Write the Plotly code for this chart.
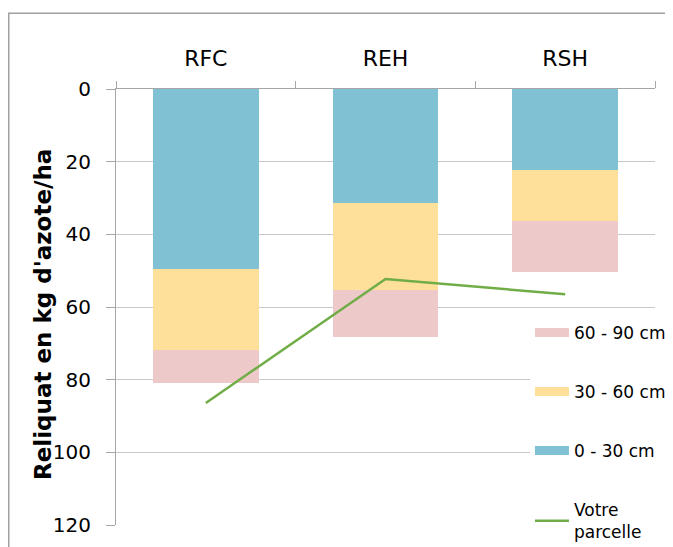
import plotly.graph_objects as go

categories = ["RFC", "REH", "RSH"]
layer_0_30 = [49.5, 31.3, 22.2]
layer_30_60 = [22.3, 23.9, 14.1]
layer_60_90 = [9.0, 13.1, 14.1]
votre_parcelle = [86.4, 52.3, 56.5]

col_blue = "#80C2D4"
col_yellow = "#FEE09A"
col_pink = "#EDC9C9"
col_green = "#70AD47"
font_fam = "DejaVu Sans"

fig = go.Figure()
for name, vals, col in [("0 - 30 cm", layer_0_30, col_blue),
                        ("30 - 60 cm", layer_30_60, col_yellow),
                        ("60 - 90 cm", layer_60_90, col_pink)]:
    fig.add_trace(go.Bar(x=categories, y=vals, name=name, marker_color=col,
                         marker_line_width=0, showlegend=False))

fig.add_trace(go.Scatter(x=categories, y=votre_parcelle, mode="lines",
                         line=dict(color=col_green, width=2.5), showlegend=False))

# legend entries (wide rectangles as in the reference)
for i, (name, col, w) in enumerate([("60 - 90 cm", col_pink, 9),
                                    ("30 - 60 cm", col_yellow, 9),
                                    ("0 - 30 cm", col_blue, 9),
                                    ("Votre<br>parcelle", col_green, 2.5)]):
    fig.add_trace(go.Scatter(x=[None], y=[None], mode="lines", name=name,
                             line=dict(color=col, width=w), legendgroup=f"g{i}",
                             legendrank=i + 1))

fig.update_layout(
    width=700, height=580,
    margin=dict(l=108, r=53, t=81, b=63),
    barmode="stack", bargap=0.413,
    plot_bgcolor="white", paper_bgcolor="white",
    font=dict(family=font_fam, color="#000000"),
    legend=dict(x=0.768, y=0.482, xanchor="left", yanchor="top",
                bgcolor="white", font=dict(size=17, family=font_fam),
                tracegroupgap=34, traceorder="grouped", itemwidth=34),
    xaxis=dict(side="top", type="category", tickson="boundaries",
               ticks="outside", ticklen=7, tickcolor="#a6a6a6",
               showline=True, linecolor="#a6a6a6", linewidth=1,
               tickfont=dict(size=22), ticklabelstandoff=13, showgrid=False),
    yaxis=dict(range=[120, 0], dtick=20, ticks="outside", ticklen=9,
               tickcolor="#a6a6a6", showline=True, linecolor="#a6a6a6",
               gridcolor="#c8c8c8", gridwidth=1, zeroline=False,
               tickfont=dict(size=20), ticklabelstandoff=11),
    annotations=[dict(text="<b>Reliquat en kg d'azote/ha</b>", textangle=-90,
                      xref="paper", yref="paper", x=-0.1354, y=0.4817,
                      xanchor="center", yanchor="middle", showarrow=False,
                      font=dict(size=23, family=font_fam))],
    shapes=[dict(type="rect", xref="paper", yref="paper",
                 x0=-0.199, x1=1.1, y0=-0.2, y1=1.174,
                 line=dict(color="#a0a0a0", width=1.5), layer="below")],
)

fig.write_html("out.html")
